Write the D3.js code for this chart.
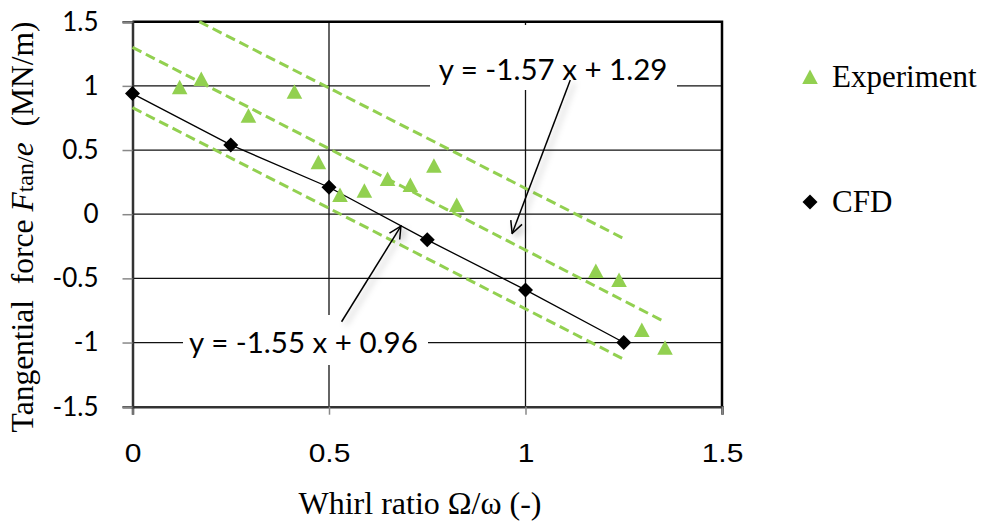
<!DOCTYPE html>
<html>
<head>
<meta charset="utf-8">
<script src="https://cdn.jsdelivr.net/npm/d3@7"></script>
<style>
  body { margin: 0; background: #fff; }
  svg { display: block; }
</style>
</head>
<body>
<div class="container"></div>
<script>
// Experiment points (whirl ratio, force)
const expX = [0.12, 0.175, 0.295, 0.412, 0.473, 0.528, 0.59, 0.649, 0.707, 0.767, 0.825, 1.179, 1.238, 1.296, 1.355];
const expY = [0.99, 1.054, 0.768, 0.955, 0.404, 0.15, 0.183, 0.274, 0.228, 0.378, 0.072, -0.443, -0.513, -0.903, -1.04];

// CFD points
const cfdX = [0, 0.25, 0.5, 0.75, 1.0, 1.25];
const cfdY = [0.94, 0.54, 0.21, -0.2, -0.59, -1.0];

// dashed band lines, [x, y] end points
const bandUpper = [[0.17, 1.5], [1.25, -0.19]];
const bandMiddle = [[0, 1.30], [1.355, -0.84]];
const bandLower = [[0, 0.83], [1.25, -1.13]];

const xTicks = [0, 0.5, 1, 1.5];
const yTicks = [-1.5, -1, -0.5, 0, 0.5, 1, 1.5];
const gridX = [0.5, 1];
const gridY = [-1, -0.5, 0, 0.5, 1];

// equation labels + arrows (data coords)
const eqText = ['y = -1.57 x + 1.29', 'y = -1.55 x + 0.96'];
const eqPos = [[1.07, 1.13], [0.435, -1.0]];
const arrowFrom = [[1.114, 1.046], [0.532, -0.838]];
const arrowTo = [[0.966, -0.15], [0.683, -0.093]];

const legendNames = ['Experiment', 'CFD'];

const W = 986, H = 525;
const margin = { left: 132.5, right: 264, top: 21.7, bottom: 118.3 };
const green = '#92D050';

const svg = d3.select('.container')
  .append('svg')
  .attr('width', W)
  .attr('height', H);

const defs = svg.append('defs');
const shadow = defs.append('filter').attr('id', 'shadow')
  .attr('x', '-50%').attr('y', '-50%').attr('width', '200%').attr('height', '200%');
shadow.append('feDropShadow')
  .attr('dx', 4).attr('dy', 3).attr('stdDeviation', 3)
  .attr('flood-color', '#000').attr('flood-opacity', 0.3);

defs.append('marker')
  .attr('id', 'arrowhead')
  .attr('viewBox', '0 0 14 14')
  .attr('refX', 13).attr('refY', 7)
  .attr('markerWidth', 14).attr('markerHeight', 14)
  .attr('markerUnits', 'userSpaceOnUse')
  .attr('orient', 'auto')
  .append('path')
  .attr('d', 'M1,1 L13,7 L1,13')
  .attr('fill', 'none')
  .attr('stroke', '#000')
  .attr('stroke-width', 1.5);

const xScale = d3.scaleLinear().domain([0, 1.5]).range([margin.left, W - margin.right]);
const yScale = d3.scaleLinear().domain([-1.5, 1.5]).range([H - margin.bottom, margin.top]);

// grid
svg.append('g')
  .selectAll('line')
  .data(gridY)
  .enter()
  .append('line')
  .attr('x1', xScale(0)).attr('x2', xScale(1.5))
  .attr('y1', d => yScale(d)).attr('y2', d => yScale(d))
  .attr('stroke', '#111').attr('stroke-width', 1.3);

svg.append('g')
  .selectAll('line')
  .data(gridX)
  .enter()
  .append('line')
  .attr('x1', d => xScale(d)).attr('x2', d => xScale(d))
  .attr('y1', yScale(1.5)).attr('y2', yScale(-1.5))
  .attr('stroke', '#111').attr('stroke-width', 1.3);

// top + right border
svg.append('path')
  .attr('d', `M${xScale(0)},${yScale(1.5)} H${xScale(1.5)} V${yScale(-1.5)}`)
  .attr('fill', 'none')
  .attr('stroke', '#000')
  .attr('stroke-width', 2.5);

// white boxes behind equation labels
const labelBoxes = [[430, 25, 247, 65], [183, 315, 245, 50]];

// axes
const xAxis = d3.axisBottom(xScale).tickValues(xTicks).tickSize(8).tickFormat(d => String(d));
const gx = svg.append('g')
  .attr('id', 'x-axis')
  .attr('transform', `translate(0,${yScale(-1.5)})`)
  .call(xAxis);
gx.select('.domain').attr('stroke', '#333').attr('stroke-width', 2.5);
gx.selectAll('.tick line').attr('stroke', '#888').attr('stroke-width', 1.5);
gx.selectAll('.tick text')
  .attr('y', 55)
  .attr('dy', null)
  .attr('transform', 'scale(1.2,1)')
  .style('font-family', '"Liberation Sans", Arial, sans-serif')
  .style('font-size', '25px')
  .attr('fill', '#000');

const yAxis = d3.axisLeft(yScale).tickValues(yTicks).tickSize(10).tickFormat(d => String(d));
const gy = svg.append('g')
  .attr('id', 'y-axis')
  .attr('transform', `translate(${xScale(0)},0)`)
  .call(yAxis);
gy.select('.domain').attr('stroke', '#333').attr('stroke-width', 2.5);
gy.selectAll('.tick line').attr('stroke', '#888').attr('stroke-width', 1.5);
gy.selectAll('.tick text')
  .attr('x', -34)
  .style('font-family', 'Lato, "Open Sans", sans-serif')
  .style('font-size', '26px')
  .attr('fill', '#000');

// dashed band lines
const line = d3.line().x(d => xScale(d[0])).y(d => yScale(d[1]));
svg.append('g')
  .selectAll('path')
  .data([bandUpper, bandMiddle, bandLower])
  .enter()
  .append('path')
  .attr('d', line)
  .attr('fill', 'none')
  .attr('stroke', green)
  .attr('stroke-width', 3)
  .attr('stroke-dasharray', '10,5');

// CFD line + markers
const cfd = cfdX.map((x, i) => [x, cfdY[i]]);
svg.append('path')
  .datum(cfd)
  .attr('d', line)
  .attr('fill', 'none')
  .attr('stroke', '#000')
  .attr('stroke-width', 1.3);

const triPath = 'M0,-7.5 L7.8,7 L-7.8,7 Z';
const diaPath = 'M0,-7.5 L7.5,0 L0,7.5 L-7.5,0 Z';

svg.append('g')
  .selectAll('path')
  .data(expX.map((x, i) => [x, expY[i]]))
  .enter()
  .append('path')
  .attr('d', triPath)
  .attr('transform', d => `translate(${xScale(d[0])},${yScale(d[1])})`)
  .attr('fill', green);

svg.append('g')
  .selectAll('path')
  .data(cfd)
  .enter()
  .append('path')
  .attr('d', diaPath)
  .attr('transform', d => `translate(${xScale(d[0])},${yScale(d[1])})`)
  .attr('fill', '#000');

// equation labels
svg.append('g')
  .selectAll('rect')
  .data(labelBoxes)
  .enter()
  .append('rect')
  .attr('x', d => d[0]).attr('y', d => d[1])
  .attr('width', d => d[2]).attr('height', d => d[3])
  .attr('fill', '#fff');

svg.append('g')
  .selectAll('text')
  .data(eqText)
  .enter()
  .append('text')
  .attr('x', (d, i) => xScale(eqPos[i][0]))
  .attr('y', (d, i) => yScale(eqPos[i][1]))
  .attr('dy', '0.36em')
  .attr('text-anchor', 'middle')
  .style('font-family', 'Lato, "Open Sans", sans-serif')
  .style('font-size', '29.5px')
  .text(d => d);

// arrows
svg.append('g')
  .selectAll('line')
  .data(arrowFrom)
  .enter()
  .append('line')
  .attr('x1', d => xScale(d[0])).attr('y1', d => yScale(d[1]))
  .attr('x2', (d, i) => xScale(arrowTo[i][0])).attr('y2', (d, i) => yScale(arrowTo[i][1]))
  .attr('stroke', '#000')
  .attr('stroke-width', 1.5)
  .attr('marker-end', 'url(#arrowhead)')
  .attr('filter', 'url(#shadow)');

// axis titles
svg.append('text')
  .attr('x', 420)
  .attr('y', 514)
  .attr('text-anchor', 'middle')
  .style('font-family', '"Liberation Serif", "Times New Roman", serif')
  .style('font-size', '32px')
  .text('Whirl ratio Ω/ω (-)');

const yTitle = svg.append('text')
  .attr('transform', 'translate(33,227) rotate(-90)')
  .attr('text-anchor', 'middle')
  .attr('xml:space', 'preserve')
  .style('white-space', 'pre')
  .style('font-family', '"Liberation Serif", "Times New Roman", serif')
  .style('font-size', '31.5px');
yTitle.append('tspan').text('Tangential  force ');
yTitle.append('tspan').style('font-style', 'italic').text('F');
yTitle.append('tspan').style('font-size', '24px').text('tan/');
yTitle.append('tspan').style('font-style', 'italic').text('e');
yTitle.append('tspan').text('  (MN/m)');

// legend
const legend = svg.append('g').attr('id', 'legend');
const legendY = [77, 202];
legend.selectAll('path')
  .data(legendNames)
  .enter()
  .append('path')
  .attr('d', (d, i) => i === 0 ? triPath : diaPath)
  .attr('transform', (d, i) => `translate(810,${legendY[i]})`)
  .attr('fill', (d, i) => i === 0 ? green : '#000');
legend.selectAll('text')
  .data(legendNames)
  .enter()
  .append('text')
  .attr('x', 832)
  .attr('y', (d, i) => legendY[i])
  .attr('dy', '0.33em')
  .style('font-family', '"Liberation Serif", "Times New Roman", serif')
  .style('font-size', '31px')
  .text(d => d);
</script>
</body>
</html>
